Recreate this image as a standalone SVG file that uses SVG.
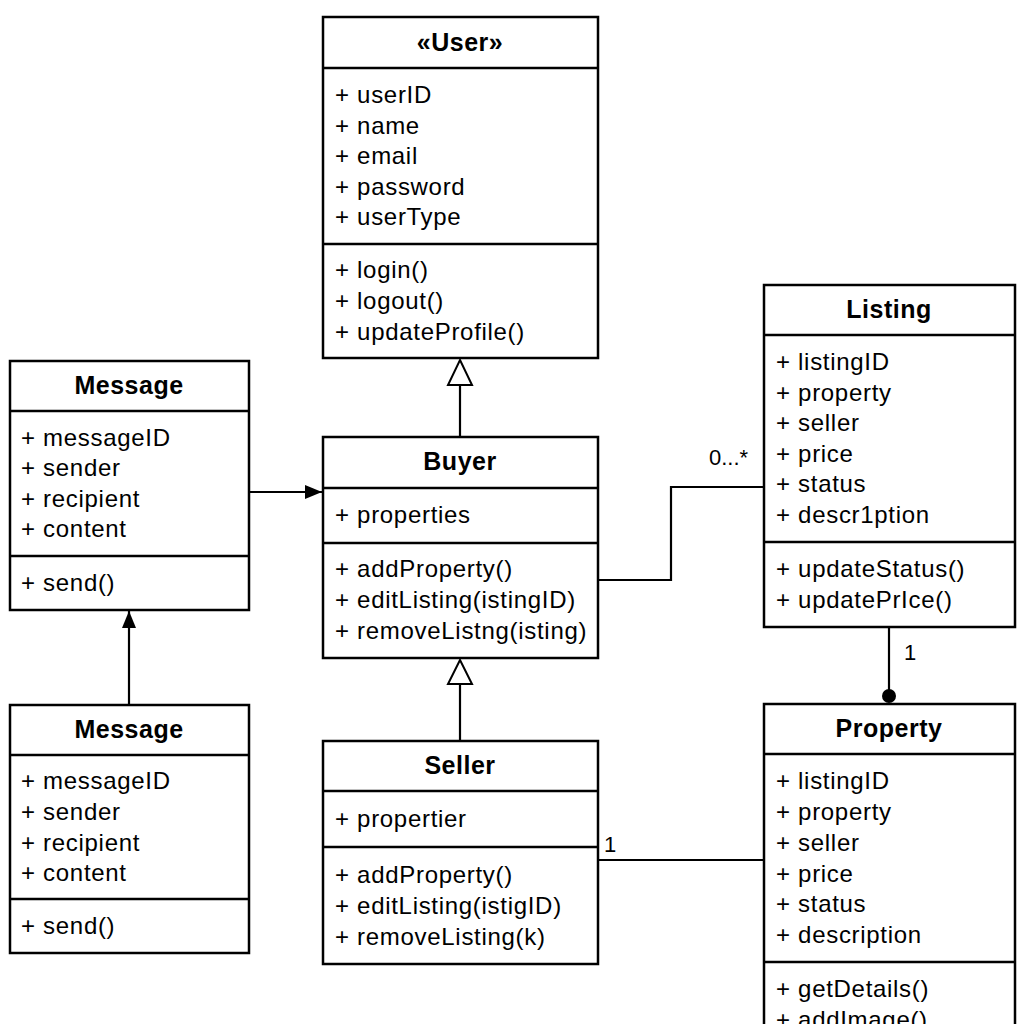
<svg xmlns="http://www.w3.org/2000/svg" width="1024" height="1024" viewBox="0 0 1024 1024">
  <style>
    .box { fill: #ffffff; stroke: #000000; stroke-width: 2.5; }
    .div { stroke: #000000; stroke-width: 2.5; }
    .title { font-family: "Liberation Sans", Arial, sans-serif; font-size: 25px; font-weight: bold; letter-spacing: 0.5px; text-anchor: middle; fill: #000; }
    .txt { font-family: "Liberation Sans", Arial, sans-serif; font-size: 24px; letter-spacing: 0.7px; fill: #000; }
    .lbl { font-family: "Liberation Sans", Arial, sans-serif; font-size: 22px; fill: #000; }
    .edge { fill: none; stroke: #000000; stroke-width: 2.2; }
  </style>
  <defs>
    <marker id="filledArrow" markerWidth="18" markerHeight="16" refX="17" refY="8" orient="auto" markerUnits="userSpaceOnUse" viewBox="0 0 18 16">
      <path d="M0 1 L17 8 L0 15 Z" fill="#000000"/>
    </marker>
  </defs>

  <rect width="1024" height="1024" fill="#ffffff"/>

  <!-- connectors -->
  <g id="connectors">
    <!-- Buyer generalizes User -->
    <path class="edge" d="M460 437 L460 384" />
    <path d="M460 360 L472 385 L448 385 Z" fill="#fff" stroke="#000" stroke-width="2"/>
    <!-- Seller generalizes Buyer -->
    <path class="edge" d="M460 741 L460 684" />
    <path d="M460 660 L472 684 L448 684 Z" fill="#fff" stroke="#000" stroke-width="2"/>
    <!-- Message to Buyer -->
    <path class="edge" d="M249 492 L322 492" marker-end="url(#filledArrow)"/>
    <!-- lower Message to upper Message -->
    <path class="edge" d="M129 705 L129 611" marker-end="url(#filledArrow)"/>
    <!-- Buyer to Listing -->
    <path class="edge" d="M598 580 L671 580 L671 487 L764 487"/>
    <text class="lbl" x="709" y="465">0...*</text>
    <!-- Listing to Property -->
    <path class="edge" d="M889 627 L889 696"/>
    <circle cx="889" cy="696" r="7" fill="#000"/>
    <text class="lbl" x="904" y="660">1</text>
    <!-- Seller to Property -->
    <path class="edge" d="M598 860 L764 860"/>
    <text class="lbl" x="604" y="852">1</text>
  </g>

  <!-- User -->
  <g id="user">
    <rect class="box" x="323" y="17" width="275" height="341"/>
    <line class="div" x1="323" y1="68" x2="598" y2="68"/>
    <line class="div" x1="323" y1="244" x2="598" y2="244"/>
    <text class="title" x="460" y="51">«User»</text>
    <text class="txt" x="335" y="103">+ userID</text>
    <text class="txt" x="335" y="134">+ name</text>
    <text class="txt" x="335" y="164">+ email</text>
    <text class="txt" x="335" y="195">+ password</text>
    <text class="txt" x="335" y="225">+ userType</text>
    <text class="txt" x="335" y="278">+ login()</text>
    <text class="txt" x="335" y="309">+ logout()</text>
    <text class="txt" x="335" y="340">+ updateProfile()</text>
  </g>

  <!-- Listing -->
  <g id="listing">
    <rect class="box" x="764" y="285" width="251" height="342"/>
    <line class="div" x1="764" y1="335" x2="1015" y2="335"/>
    <line class="div" x1="764" y1="542" x2="1015" y2="542"/>
    <text class="title" x="889" y="318">Listing</text>
    <text class="txt" x="776" y="370">+ listingID</text>
    <text class="txt" x="776" y="401">+ property</text>
    <text class="txt" x="776" y="431">+ seller</text>
    <text class="txt" x="776" y="462">+ price</text>
    <text class="txt" x="776" y="492">+ status</text>
    <text class="txt" x="776" y="523">+ descr1ption</text>
    <text class="txt" x="776" y="577">+ updateStatus()</text>
    <text class="txt" x="776" y="608">+ updatePrIce()</text>
  </g>

  <!-- Message (upper) -->
  <g id="message-upper">
    <rect class="box" x="10" y="361" width="239" height="249"/>
    <line class="div" x1="10" y1="411" x2="249" y2="411"/>
    <line class="div" x1="10" y1="556" x2="249" y2="556"/>
    <text class="title" x="129" y="394">Message</text>
    <text class="txt" x="21" y="446">+ messageID</text>
    <text class="txt" x="21" y="476">+ sender</text>
    <text class="txt" x="21" y="507">+ recipient</text>
    <text class="txt" x="21" y="537">+ content</text>
    <text class="txt" x="21" y="591">+ send()</text>
  </g>

  <!-- Message (lower) -->
  <g id="message-lower">
    <rect class="box" x="10" y="705" width="239" height="248"/>
    <line class="div" x1="10" y1="755" x2="249" y2="755"/>
    <line class="div" x1="10" y1="899" x2="249" y2="899"/>
    <text class="title" x="129" y="738">Message</text>
    <text class="txt" x="21" y="789">+ messageID</text>
    <text class="txt" x="21" y="820">+ sender</text>
    <text class="txt" x="21" y="851">+ recipient</text>
    <text class="txt" x="21" y="881">+ content</text>
    <text class="txt" x="21" y="934">+ send()</text>
  </g>

  <!-- Buyer -->
  <g id="buyer">
    <rect class="box" x="323" y="437" width="275" height="221"/>
    <line class="div" x1="323" y1="488" x2="598" y2="488"/>
    <line class="div" x1="323" y1="543" x2="598" y2="543"/>
    <text class="title" x="460" y="470">Buyer</text>
    <text class="txt" x="335" y="523">+ properties</text>
    <text class="txt" x="335" y="577">+ addProperty()</text>
    <text class="txt" x="335" y="608">+ editListing(istingID)</text>
    <text class="txt" x="335" y="639">+ removeListng(isting)</text>
  </g>

  <!-- Seller -->
  <g id="seller">
    <rect class="box" x="323" y="741" width="275" height="223"/>
    <line class="div" x1="323" y1="791" x2="598" y2="791"/>
    <line class="div" x1="323" y1="847" x2="598" y2="847"/>
    <text class="title" x="460" y="774">Seller</text>
    <text class="txt" x="335" y="827">+ propertier</text>
    <text class="txt" x="335" y="883">+ addProperty()</text>
    <text class="txt" x="335" y="914">+ editListing(istigID)</text>
    <text class="txt" x="335" y="945">+ removeListing(k)</text>
  </g>

  <!-- Property (continues past the lower edge) -->
  <g id="property">
    <rect class="box" x="764" y="704" width="251" height="340"/>
    <line class="div" x1="764" y1="754" x2="1015" y2="754"/>
    <line class="div" x1="764" y1="962" x2="1015" y2="962"/>
    <text class="title" x="889" y="737">Property</text>
    <text class="txt" x="776" y="789">+ listingID</text>
    <text class="txt" x="776" y="820">+ property</text>
    <text class="txt" x="776" y="851">+ seller</text>
    <text class="txt" x="776" y="882">+ price</text>
    <text class="txt" x="776" y="912">+ status</text>
    <text class="txt" x="776" y="943">+ description</text>
    <text class="txt" x="776" y="997">+ getDetails()</text>
    <text class="txt" x="776" y="1028">+ addImage()</text>
  </g>
</svg>
